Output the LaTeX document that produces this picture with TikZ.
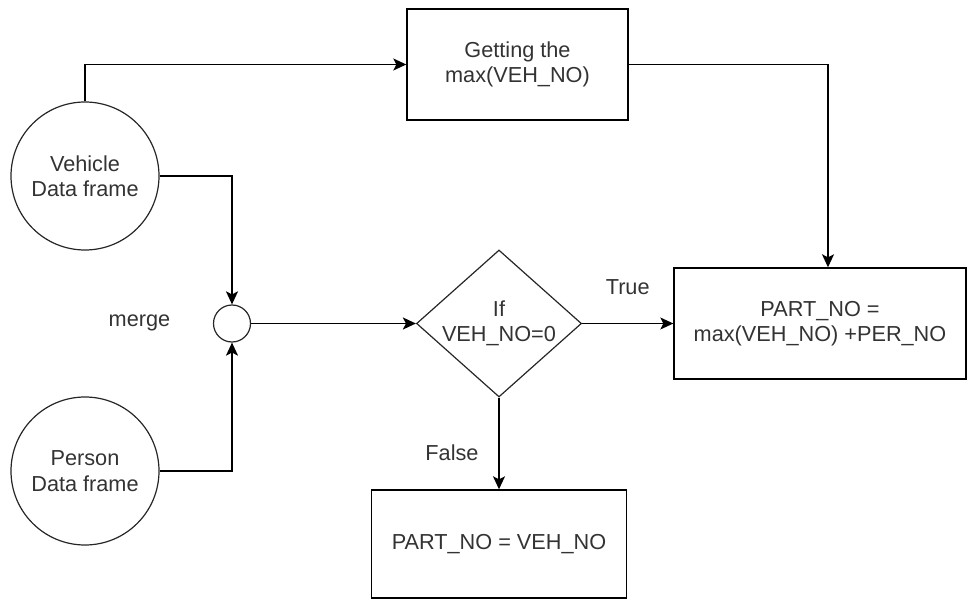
\documentclass[tikz,border=0pt]{standalone}
\usepackage{fontspec}
\setmainfont{Liberation Sans}
\usetikzlibrary{arrows.meta,shapes.geometric}
\begin{document}
\begin{tikzpicture}[x=1pt,y=-1pt,
  every node/.style={font=\fontsize{21.7}{25.5}\selectfont, text=black!80, align=center},
  line/.style={draw=black, line width=1.4pt},
  arr/.style={line, -{Stealth[length=13pt,width=12pt,inset=3pt]}},
  circ/.style={circle, draw=black!85, line width=1.2pt, minimum size=148pt, inner sep=0pt},
  box/.style={rectangle, draw=black, line width=1.4pt, inner sep=0pt}]
\useasboundingbox (0,0) rectangle (968,601);
\node[circ] (veh) at (85,176) {Vehicle\\Data frame};
\node[circ] (per) at (85,471) {Person\\Data frame};
\node[circle, draw=black!85, line width=1.2pt, minimum size=37pt, inner sep=0pt] (m) at (232,323.5) {};
\node (ml) at (139.5,323) {merge};
\node[box, minimum width=221pt, minimum height=111pt] (get) at (517.5,64.5) {Getting the\\max(VEH\_NO)};
\node[diamond, draw=black!85, line width=1.2pt, minimum width=165pt, minimum height=147pt, inner sep=0pt] (dec) at (499,323.5) {};
\node (dect) at (dec.center) {If\\VEH\_NO=0};
\node[box, minimum width=292pt, minimum height=111pt] (res) at (820,323.5) {PART\_NO =\\max(VEH\_NO) +PER\_NO};
\node[box, minimum width=255pt, minimum height=108pt] (res2) at (499,544) {PART\_NO = VEH\_NO};
\draw[arr] (veh.north) |- (get.west);
\draw[arr] (get.east) -| ([xshift=8pt]res.north);
\draw[arr] (veh.east) -| (m.north);
\draw[arr] (per.east) -| (m.south);
\draw[arr] (m.east) -- (dec.west);
\draw[arr] (dec.east) -- node[midway, yshift=36pt] {True} (res.west);
\draw[arr] (dec.south) -- node[pos=0.6, xshift=-47pt] {False} (res2.north);
\end{tikzpicture}
\end{document}
